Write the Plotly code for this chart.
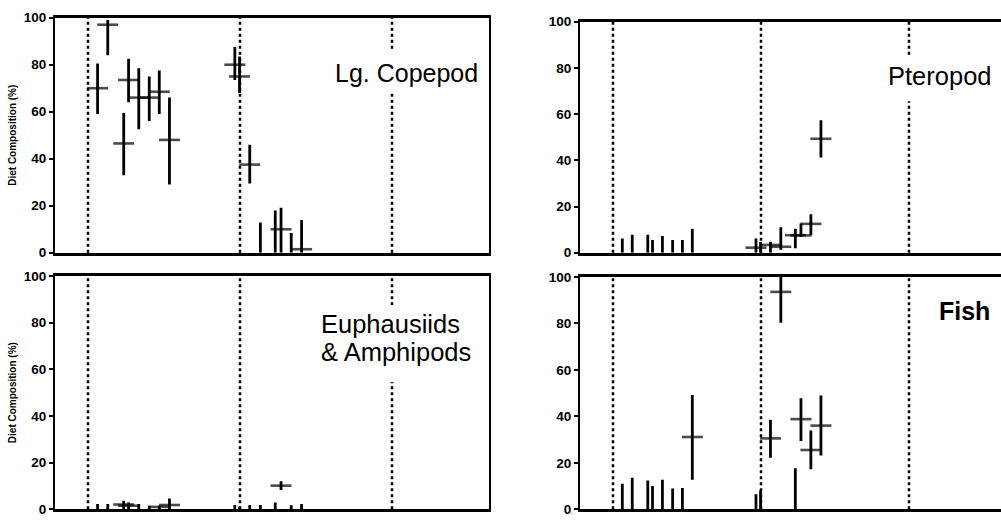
import numpy as np
import plotly.graph_objects as go

# Sample positions along the sampling sequence (shared by every prey panel)
sample_x = [1.063, 1.130, 1.235, 1.267, 1.334, 1.403, 1.469, 1.536,
            1.966, 1.997, 2.064, 2.134, 2.232, 2.270, 2.337, 2.405]

# Period boundaries (dotted separators)
dividers = [1, 2, 3]

# Diet composition (%): mean with lower / upper bounds
copepod_mean = [70, 97, 46.5, 73.5, 66, 66, 68.5, 48, 80, 75, 37.5, 0, 0, 10, 0, 1.5]
copepod_lo = [59, 84, 33, 64, 52.5, 56, 59, 29, 73.5, 68, 29.5, 0, 0, 0, 0, 0]
copepod_hi = [80.5, 99, 59.5, 82.5, 78.5, 75, 77.5, 66, 87.5, 83.5, 46, 12.9, 18, 19.1, 8.4, 13.9]

pteropod_mean = [0, 0, 0, 0, 0, 0, 0, 0, 2.2, 0, 3.4, 2.6, 7.6, 7.5, 12.5, 49.3]
pteropod_lo = [0, 0, 0, 0, 0, 0, 0, 0, 0, 0, 0, 1.3, 2, 6.9, 7.6, 41.2]
pteropod_hi = [6.2, 7.8, 7.8, 5.5, 7.3, 5.5, 5.5, 10.4, 6.2, 4.7, 4.8, 11, 10.4, 12.7, 16.7, 57.3]

euph_mean = [0, 0, 2, 1.5, 0, 0, 1, 1.8, 0, 0, 0, 0, 0, 10.1, 0, 0]
euph_lo = [0, 0, 0, 0, 0, 0, 0, 0, 0, 0, 0, 0, 0, 8.2, 0, 0]
euph_hi = [2.2, 2.2, 3.6, 2.9, 2.2, 1.5, 1.5, 4.6, 1.8, 1.0, 1.8, 1.8, 2.9, 12, 1.7, 2.2]

fish_mean = [0, 0, 0, 0, 0, 0, 0, 31.1, 0, 0, 30.5, 93.6, 0, 38.8, 25.5, 36]
fish_lo = [0, 0, 0, 0, 0, 0, 0, 12.7, 0, 0, 22.2, 80.3, 0, 29.4, 17.2, 23.1]
fish_hi = [11, 13.5, 12.4, 10, 12.7, 8.9, 9.1, 49.2, 6.4, 8.1, 38.5, 100, 17.6, 47.8, 33.9, 49]

y_ticks = [0, 20, 40, 60, 80, 100]
y_title = "Diet Composition (%)"

W, H = 1001, 524
FONT = "Liberation Sans, Arial, Helvetica, sans-serif"


def px_x(p):
    return p / W


def px_y(p):
    return 1 - p / H


# panel: (axis suffix, x-domain px, y-domain px, x-range, mean, lo, hi, boxed, y title)
panels = [
    ("", (55, 489), (11, 253), (1 - 33 / 152, 1 + 401 / 152),
     copepod_mean, copepod_lo, copepod_hi, True, True),
    ("2", (580, 1001), (15, 253), (1 - 33 / 148, 1 + 388 / 148),
     pteropod_mean, pteropod_lo, pteropod_hi, False, False),
    ("3", (55, 489), (277, 517), (1 - 33 / 152, 1 + 401 / 152),
     euph_mean, euph_lo, euph_hi, True, True),
    ("4", (580, 1001), (278, 517), (1 - 33 / 148, 1 + 388 / 148),
     fish_mean, fish_lo, fish_hi, False, False),
]

fig = go.Figure()
layout = dict(
    width=W, height=H,
    margin=dict(l=0, r=0, t=0, b=0),
    paper_bgcolor="white", plot_bgcolor="white",
    showlegend=False,
    font=dict(family=FONT, color="black"),
)
shapes = []

for suf, xd, yd, xr, mean, lo, hi, boxed, has_title in panels:
    mean_a = np.array(mean, float)
    up = np.array(hi, float) - mean_a
    dn = mean_a - np.array(lo, float)
    # means sitting on the baseline show only their upper bar
    sizes = np.where(mean_a > 0, 15, 0)
    fig.add_trace(go.Scatter(
        x=sample_x, y=mean, mode="markers",
        xaxis="x" + suf, yaxis="y" + suf, cliponaxis=False,
        marker=dict(symbol="line-ew", size=sizes, color="black",
                    line=dict(color="black", width=2.6)),
        error_y=dict(type="data", symmetric=False, array=up, arrayminus=dn,
                     thickness=2.8, width=0, color="black"),
        hoverinfo="skip",
    ))
    xa = dict(
        domain=[px_x(xd[0]), px_x(xd[1])], range=list(xr),
        anchor="y" + suf, showgrid=False, zeroline=False,
        showticklabels=False, ticks="",
        showline=True, linecolor="black", linewidth=2.5, mirror=True,
    )
    ya = dict(
        domain=[px_y(yd[1]), px_y(yd[0])], range=[0, 100],
        anchor="x" + suf, showgrid=False, zeroline=False,
        tickvals=y_ticks, ticks="outside", ticklen=4, tickwidth=1.5,
        tickcolor="black",
        tickfont=dict(family=FONT, size=13.5, color="black", weight="bold"),
        showline=True, linecolor="black", linewidth=2, mirror=boxed,
    )
    if has_title:
        ya["title"] = dict(text=y_title, standoff=5,
                           font=dict(family=FONT, size=10, color="black",
                                     weight="bold"))
    key = suf if suf else ""
    layout["xaxis" + key] = xa
    layout["yaxis" + key] = ya
    for d in dividers:
        shapes.append(dict(
            type="line", xref="x" + suf, yref="y" + suf + " domain",
            x0=d, x1=d, y0=0, y1=1, layer="below",
            line=dict(color="black", width=2.5, dash="dot"),
        ))

# white backing behind the panel labels (breaks the dotted separators)
for x0, x1, y0, y1 in [(328, 484, 44, 89), (882, 998, 51, 97), (316, 482, 307, 386)]:
    shapes.append(dict(
        type="rect", xref="paper", yref="paper",
        x0=px_x(x0), x1=px_x(x1), y0=px_y(y1), y1=px_y(y0),
        fillcolor="white", line=dict(width=0), layer="below",
    ))

layout["shapes"] = shapes

label_font = dict(family=FONT, size=25, color="black")
layout["annotations"] = [
    dict(text="Lg. Copepod", xref="paper", yref="paper",
         x=px_x(406), y=px_y(68), xanchor="center", yanchor="middle",
         showarrow=False, font=label_font),
    dict(text="Pteropod", xref="paper", yref="paper",
         x=px_x(940), y=px_y(71), xanchor="center", yanchor="middle",
         showarrow=False, font=dict(family=FONT, size=25.5, color="black")),
    dict(text="Euphausiids", xref="paper", yref="paper",
         x=px_x(319), y=px_y(326), xanchor="left", yanchor="middle",
         showarrow=False, font=dict(family=FONT, size=25.5, color="black")),
    dict(text="& Amphipods", xref="paper", yref="paper",
         x=px_x(319), y=px_y(355), xanchor="left", yanchor="middle",
         showarrow=False, font=dict(family=FONT, size=25.5, color="black")),
    dict(text="Fish", xref="paper", yref="paper",
         x=px_x(964), y=px_y(313), xanchor="center", yanchor="middle",
         showarrow=False, font=dict(family=FONT, size=25, color="black",
                                    weight="bold")),
]

fig.update_layout(**layout)
fig.write_html("out.html")
